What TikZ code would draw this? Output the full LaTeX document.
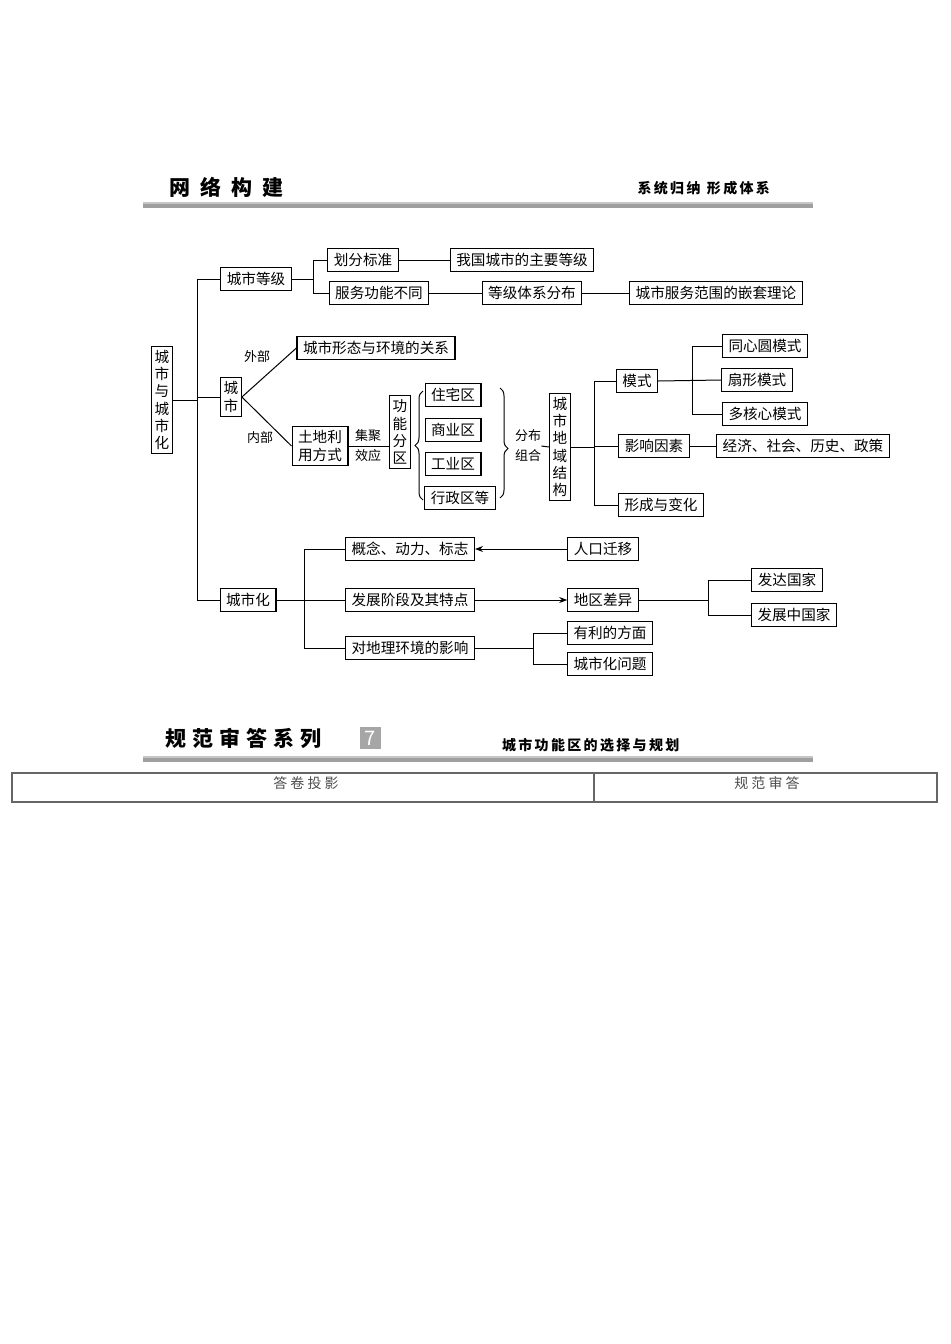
\documentclass[tikz,border=0pt]{standalone}
\usepackage{fontspec}
\setmainfont{Noto Sans CJK SC}
\usetikzlibrary{decorations.pathreplacing,arrows.meta}
\tikzset{
 bx/.style={draw,line width=0.6pt,inner xsep=3pt,inner ysep=0pt,minimum height=11.5pt,font=\fontsize{7.3}{8.5}\selectfont},
 vbx/.style={draw,line width=0.6pt,inner xsep=1.5pt,inner ysep=2pt,align=center,font=\fontsize{7.3}{8.6}\selectfont},
 lb/.style={font=\fontsize{6.5}{10}\selectfont,align=center,inner sep=0pt},
 ln/.style={line width=0.5pt},
}
\begin{document}
\begin{tikzpicture}[x=0.5pt,y=-0.5pt]
\useasboundingbox (0,0) rectangle (950,1344);
% headers
\node[anchor=west,font=\fontsize{10.5}{12}\bfseries\selectfont] (h1) at (162,187) {网\hspace{5pt}络\hspace{5pt}构\hspace{5pt}建};
\node[anchor=east,font=\fontsize{7}{8}\bfseries\selectfont] (h2) at (777,188) {系\,统\,归\,纳\ \ 形\,成\,体\,系};
\fill[gray!45] (143,202) rectangle (813,204);
\fill[gray!75] (143,204) rectangle (813,208);
\node[anchor=west,font=\fontsize{10.5}{12}\bfseries\selectfont] (h3) at (158,738) {规\hspace{3pt}范\hspace{3pt}审\hspace{3pt}答\hspace{3pt}系\hspace{3pt}列};
\node[fill=gray!70,text=white,minimum width=10.5pt,minimum height=11pt,inner sep=0pt,font=\fontsize{10}{11}\selectfont] (h4) at (370,738) {7};
\node[anchor=west,font=\fontsize{7}{8}\bfseries\selectfont] (h5) at (495,745) {城\,市\,功\,能\,区\,的\,选\,择\,与\,规\,划};
\fill[gray!45] (143,756) rectangle (813,758);
\fill[gray!75] (143,758) rectangle (813,762);
\draw[line width=0.6pt,gray!80!black] (12,773) rectangle (937,802);
\draw[line width=0.6pt,gray!80!black] (594,773) -- (594,802);
\node[font=\fontsize{7}{8}\selectfont,text=gray!60!black] (t1) at (306,783) {答\ 卷\ 投\ 影};
\node[font=\fontsize{7}{8}\selectfont,text=gray!60!black] (t2) at (767,783) {规\ 范\ 审\ 答};
% nodes
\node[vbx] (root) at (162,400) {城\\市\\与\\城\\市\\化};
\node[bx] (dj) at (256,279) {城市等级};
\node[bx] (hf) at (363,260) {划分标准};
\node[bx] (wg) at (522,260) {我国城市的主要等级};
\node[bx] (fw) at (379,293) {服务功能不同};
\node[bx] (tx) at (532,293) {等级体系分布};
\node[bx] (qt) at (716,293) {城市服务范围的嵌套理论};
\node[vbx] (cs) at (231,397) {城\\市};
\node[bx] (xt) at (376,348) {城市形态与环境的关系};
\node[vbx,inner xsep=3pt] (td) at (320,446) {土地利\\用方式};
\node[lb] (jj) at (368,446) {集聚\\效应};
\node[vbx] (gn) at (400,432) {功\\能\\分\\区};
\node[bx] (zz) at (453,395) {住宅区};
\node[bx] (sy) at (453,430) {商业区};
\node[bx] (gy) at (453,464) {工业区};
\node[bx] (xz) at (460,498) {行政区等};
\node[lb] (fb) at (528,446) {分布\\组合};
\node[vbx] (dy) at (560,447) {城\\市\\地\\域\\结\\构};
\node[bx] (ms) at (637,381) {模式};
\node[bx] (tx1) at (765,346) {同心圆模式};
\node[bx] (sx) at (757,380) {扇形模式};
\node[bx] (dh) at (765,414) {多核心模式};
\node[bx] (yx) at (654,446) {影响因素};
\node[bx] (jjs) at (803,446) {经济、社会、历史、政策};
\node[bx] (xc) at (661,505) {形成与变化};
\node[bx] (csh) at (248,600) {城市化};
\node[bx] (gl) at (410,549) {概念、动力、标志};
\node[bx] (rk) at (603,549) {人口迁移};
\node[bx] (fz) at (410,600) {发展阶段及其特点};
\node[bx] (dq) at (603,600) {地区差异};
\node[bx] (fd) at (787,580) {发达国家};
\node[bx] (fzz) at (794,615) {发展中国家};
\node[bx] (dl) at (410,648) {对地理环境的影响};
\node[bx] (yl) at (610,633) {有利的方面};
\node[bx] (wt) at (610,664) {城市化问题};
\node[lb] (wb) at (257,357) {外部};
\node[lb] (nb) at (260,438) {内部};
% connectors
\draw[ln] (root.east) -- (197,400);
\draw[ln] (dj.west) -| (197,600) -- (csh.west);
\draw[ln] (cs.west) -- (197,397);
\draw[ln] (dj.east) -- (313,279);
\draw[ln] (hf.west) -| (313,293) -- (fw.west);
\draw[ln] (hf) -- (wg); \draw[ln] (fw) -- (tx); \draw[ln] (tx) -- (qt);
\draw[ln] (cs.east) -- (xt.west);
\draw[ln] (cs.east) -- (td.west);
\draw[ln] (td.east) -- (td.east -| gn.west);
\draw[ln,decorate,decoration={brace,amplitude=4pt,aspect=0.5}] (423,500) -- (423,391);
\draw[ln,decorate,decoration={brace,amplitude=4pt,aspect=0.55}] (500,388) -- (500,498);
\draw[ln] (fb.east) -- (dy.west);
\draw[ln] (dy.east) -- (594,447);
\draw[ln] (ms.west) -| (594,505) -- (xc.west);
\draw[ln] (594,446) -- (yx.west);
\draw[ln] (ms.east) -- (sx.west);
\draw[ln] (tx1.west) -| (692,414) -- (dh.west);
\draw[ln] (yx) -- (jjs);
\draw[ln] (csh.east) -- (304,600);
\draw[ln] (gl.west) -| (304,648) -- (dl.west);
\draw[ln] (304,600) -- (fz.west);
\draw[ln,-{Stealth[length=4pt,width=3pt]}] (rk) -- (gl);
\draw[ln,-{Stealth[length=4pt,width=3pt]}] (fz) -- (dq);
\draw[ln] (dq.east) -- (708,600);
\draw[ln] (fd.west) -| (708,615) -- (fzz.west);
\draw[ln] (dl.east) -- (533,648);
\draw[ln] (yl.west) -| (533,664) -- (wt.west);
\end{tikzpicture}
\end{document}
